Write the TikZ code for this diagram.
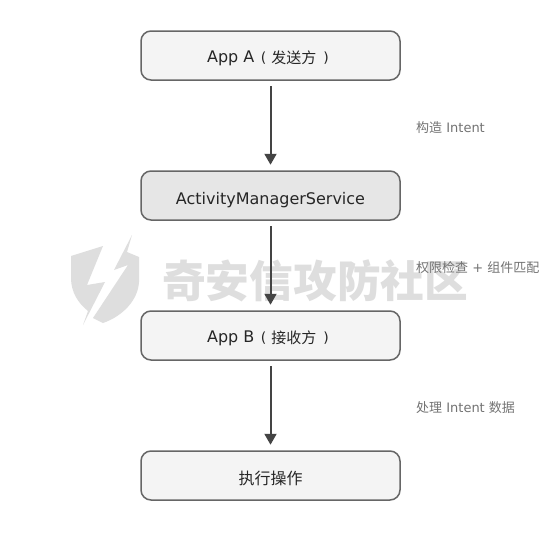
\documentclass[tikz,border=0pt]{standalone}
\usepackage{fontspec}
\setmainfont{DejaVu Sans}
\newfontfamily\cjk{Noto Sans CJK SC}
\usetikzlibrary{arrows.meta}
\definecolor{edgegray}{HTML}{666666}
\definecolor{arrowgray}{HTML}{444444}
\definecolor{fillA}{HTML}{F4F4F4}
\definecolor{fillB}{HTML}{E6E6E6}
\definecolor{wm}{HTML}{DEDEDE}
\newcommand{\zhparen}[1]{\hspace{6.5pt}{\fontsize{14}{18}\selectfont(}\hspace{5pt}\raisebox{-1pt}{\cjk\fontsize{15}{18}\selectfont #1}\hspace{7pt}{\fontsize{14}{18}\selectfont)}\kern5pt\relax}
\tikzset{
  flowbox/.style={draw=edgegray,line width=1.5pt,rounded corners=10pt,fill=fillA,minimum width=259pt,minimum height=49pt,inner sep=0pt,text=black!85,font=\fontsize{16}{18}\selectfont,text height=13pt,text depth=0pt},
  lowtext/.style={text height=17pt},
  darkbox/.style={flowbox,lowtext,fill=fillB},
  flowarrow/.style={draw=arrowgray,line width=2pt,-{Triangle[length=11pt,width=12pt]},shorten >=5.5pt,shorten <=5.5pt},
  lab/.style={text=black!55,font=\fontsize{13}{14}\selectfont,inner sep=0pt,anchor=west},
  wmtext/.style={text=wm,font=\cjk\bfseries\fontsize{43.7}{46}\selectfont,inner sep=0pt,anchor=west}
}
\begin{document}
\begin{tikzpicture}[x=1pt,y=-1pt]
\useasboundingbox (0,0) rectangle (540,560);
\fill[white] (0,0) rectangle (540,560);
% watermark
\fill[wm] (71,256) -- (103,246) -- (87,285) -- (105,282) -- (83,325) -- (88,311) .. controls (78,303) and (71,292) .. (71,278) -- cycle;
\fill[wm] (132,235) -- (127,252) -- (139,257) -- (139,282) .. controls (138,300) and (123,316) .. (103,323) -- (93,318) -- (128,265) -- (114,270) -- cycle;
\node[wmtext] (wmark) at (162,281) {奇安信攻防社区};
% boxes
\node[flowbox] (a) at (270.5,55.5) {App A\zhparen{发送方}};
\node[darkbox] (s) at (270.5,195.5) {ActivityManagerService};
\node[flowbox] (b) at (270.5,335.5) {App B\zhparen{接收方}};
\node[flowbox,lowtext] (e) at (270.5,475.5) {{\cjk\fontsize{16}{18}\selectfont 执行操作}};
\draw[flowarrow] (a) -- (s);
\draw[flowarrow] (s) -- (b);
\draw[flowarrow] (b) -- (e);
\node[lab] (l1) at (416,127.5) {{\cjk 构造} Intent};
\node[lab] (l2) at (416,267.5) {{\cjk 权限检查} + {\cjk 组件匹配}};
\node[lab] (l3) at (416,407.5) {{\cjk 处理} Intent {\cjk 数据}};
\end{tikzpicture}
\end{document}
